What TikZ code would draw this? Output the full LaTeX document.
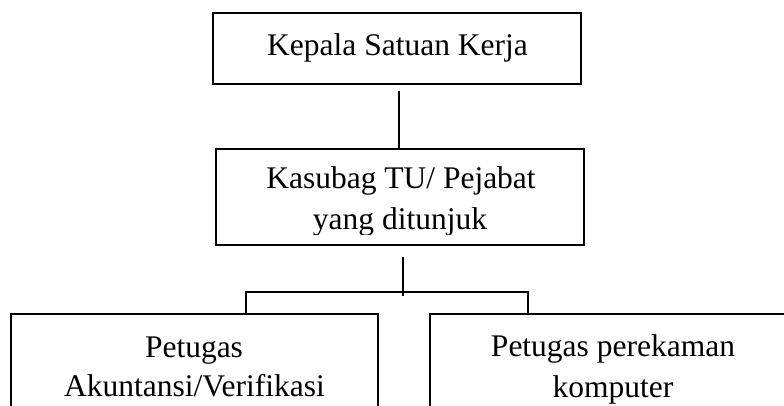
\documentclass[tikz,border=0pt]{standalone}
\usepackage{fontspec}
\setmainfont{Liberation Serif}
\begin{document}
\begin{tikzpicture}[x=1pt,y=-1pt,
  box/.style={draw=black,line width=1.8pt,rectangle,inner sep=0pt,outer sep=0pt},
  txt/.style={inner sep=0pt,outer sep=0pt,anchor=base,font=\fontsize{31.5}{37}\selectfont},
  conn/.style={draw=black,line width=1.8pt}]
\useasboundingbox[fill=white] (0,0) rectangle (784,405);
% boxes
\node[box,minimum width=368pt,minimum height=71pt] (top) at (397,48.5) {};
\node[box,minimum width=368pt,minimum height=96pt] (mid) at (400,197) {};
\node[box,minimum width=367pt,minimum height=106pt] (left) at (194.5,367) {};
\node[box,minimum width=370pt,minimum height=106pt] (right) at (615,367) {};
% texts
\node[txt] (t1) at (397.5,55) {Kepala Satuan Kerja};
\node[txt] (t2) at (401,188) {Kasubag TU/ Pejabat};
\begin{scope}
\clip (217,150) rectangle (583,234);
\node[txt] (t3) at (400,229) {yang ditunjuk};
\end{scope}
\node[txt] (t4) at (194,357) {Petugas};
\node[txt] (t5) at (194.5,396) {Akuntansi/Verifikasi};
\node[txt] (t6) at (613,356) {Petugas perekaman};
\node[txt] (t7) at (613,397) {komputer};
% connectors
\coordinate (c1) at (399,91);
\draw[conn] (c1) -- (c1 |- mid.north);
\coordinate (c2) at (403,257);
\coordinate (c3) at (403,296);
\draw[conn] (c2) -- (c3);
\coordinate (hl) at (246,292);
\coordinate (hr) at (528,292);
\draw[conn] (hl |- left.north) -- (hl) -- (hr) -- (hr |- right.north);
\end{tikzpicture}
\end{document}
